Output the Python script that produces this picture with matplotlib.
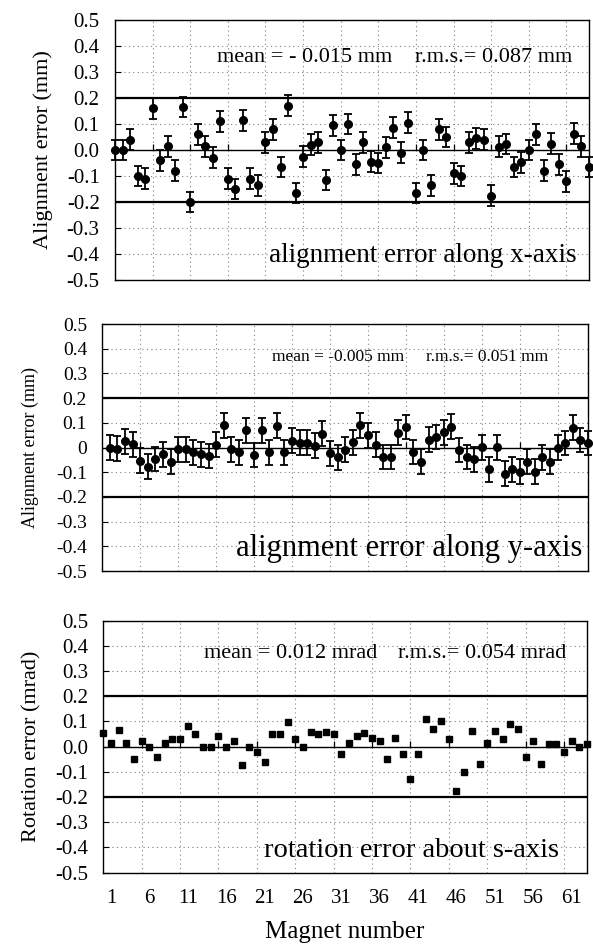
import numpy as np
import matplotlib
matplotlib.use('Agg')
import matplotlib.pyplot as plt

plt.rcParams['font.family'] = ['Liberation Serif', 'DejaVu Serif']

# alignment error along x (magnets plotted from 0), mm
x_err = [0.00, 0.00, 0.04, -0.10, -0.11, 0.16, -0.04, 0.015, -0.08, 0.165,
         -0.20, 0.06, 0.015, -0.03, 0.11, -0.11, -0.15, 0.115, -0.11, -0.135,
         0.03, 0.08, -0.065, 0.17, -0.165, -0.025, 0.02, 0.03, -0.115, 0.095,
         0.00, 0.10, -0.055, 0.03, -0.045, -0.05, 0.01, 0.085, -0.01, 0.105,
         -0.165, 0.00, -0.135, 0.08, 0.05, -0.09, -0.10, 0.03, 0.045, 0.04,
         -0.175, 0.013, 0.023, -0.065, -0.047, 0.00, 0.06, -0.08, 0.025, -0.055,
         -0.12, 0.063, 0.015, -0.065]
x_sigma = 0.04

# alignment error along y (magnets plotted from 1), mm
y_err = [0.00, -0.005, 0.025, 0.013, -0.054, -0.078, -0.047, -0.028, -0.058, -0.008,
         -0.008, -0.019, -0.027, -0.035, 0.012, 0.09, -0.008, -0.019, 0.07, -0.03,
         0.07, -0.019, 0.089, -0.019, 0.027, 0.019, 0.019, 0.008, 0.056, -0.024,
         -0.04, -0.009, 0.021, 0.09, 0.05, 0.011, -0.038, -0.038, 0.06, 0.083,
         -0.018, -0.057, 0.031, 0.042, 0.061, 0.084, -0.01, -0.038, -0.048, 0.001,
         -0.088, 0.001, -0.106, -0.088, -0.098, -0.058, -0.098, -0.04, -0.058, -0.001,
         0.018, 0.08, 0.03, 0.018]
y_sigma = 0.05

# rotation error about s, mrad
rot_err = [0.053, 0.013, 0.064, 0.013, -0.048, 0.023, 0.0, -0.04, 0.013, 0.031,
           0.031, 0.081, 0.051, 0.0, 0.0, 0.041, 0.0, 0.02, -0.072, -0.003,
           -0.023, -0.06, 0.049, 0.049, 0.097, 0.028, -0.003, 0.057, 0.049, 0.056,
           0.048, -0.03, 0.015, 0.043, 0.053, 0.033, 0.023, -0.05, 0.032, -0.029,
           -0.13, -0.029, 0.11, 0.07, 0.1, 0.03, -0.175, -0.1, 0.061, -0.07,
           0.012, 0.061, 0.03, 0.09, 0.07, -0.041, 0.02, -0.07, 0.01, 0.01,
           -0.021, 0.02, 0.0, 0.01]

yticks = [0.5, 0.4, 0.3, 0.2, 0.1, 0.0, -0.1, -0.2, -0.3, -0.4, -0.5]
ylabels_1dec = ['%.1f' % v for v in yticks]
ylabels_mid = ['0' if v == 0 else '%.1f' % v for v in yticks]
grid_x = list(range(5, 61, 5))
xtick_pos = list(range(1, 62, 5))
xtick_labels = [str(v) for v in xtick_pos]

W, H = 593, 951
fig = plt.figure(figsize=(W / 100, H / 100), dpi=100)


def rect(l, r, t, b):
    return [l / W, 1 - b / H, (r - l) / W, (b - t) / H]


def style(ax, xmax, ylabels, tick_fs):
    ax.set_xlim(0, xmax)
    ax.set_ylim(-0.5, 0.5)
    ax.set_yticks(yticks)
    ax.set_yticklabels(ylabels)
    ax.set_xticks(grid_x)
    ax.tick_params(axis='x', which='both', length=0, labelbottom=False)
    ax.tick_params(axis='y', direction='in', length=4, pad=11, labelsize=tick_fs)
    ax.grid(True, color='#808080', linestyle=(0, (1, 3)), linewidth=0.8)
    for v in (0.2, -0.2):
        ax.axhline(v, color='k', lw=1.6, zorder=2)
    ax.axhline(0, color='k', lw=1.0, zorder=2)
    ax.vlines(grid_x, 0, 0.022, color='k', lw=0.9, zorder=2)
    for s in ax.spines.values():
        s.set_linewidth(1.0)


# panel 1
ax1 = fig.add_axes(rect(115, 589, 20, 280))
style(ax1, 63, ylabels_1dec, 15)
ax1.errorbar(np.arange(len(x_err)), x_err, yerr=x_sigma, fmt='o', color='k',
             ms=5.5, elinewidth=1.3, capsize=3, capthick=1.3, zorder=3, clip_on=False)
ax1.set_ylabel('Alignment error (mm)', fontsize=16, labelpad=10)
ax1.text(13.6, 0.34, 'mean = - 0.015 mm', fontsize=16, ha='left')
ax1.text(60.8, 0.34, 'r.m.s.= 0.087 mm', fontsize=16, ha='right')
ax1.text(61.4, -0.43, 'alignment error along x-axis', fontsize=19.5, ha='right')

# panel 2
ax2 = fig.add_axes(rect(102.3, 588, 324, 571))
style(ax2, 64, ylabels_mid, 14)
ax2.errorbar(np.arange(1, len(y_err) + 1), y_err, yerr=y_sigma, fmt='o', color='k',
             ms=5.5, elinewidth=1.3, capsize=3, capthick=1.3, zorder=3, clip_on=False)
ax2.set_ylabel('Alignment error (mm)', fontsize=13, labelpad=12)
ax2.text(22.4, 0.35, 'mean = -0.005 mm', fontsize=12.5, ha='left')
ax2.text(58.7, 0.35, 'r.m.s.= 0.051 mm', fontsize=12.5, ha='right')
ax2.text(63.3, -0.44, 'alignment error along y-axis', fontsize=22, ha='right')

# panel 3
ax3 = fig.add_axes(rect(103.3, 587, 620.5, 872.5))
style(ax3, 63, ylabels_1dec, 15)
ax3.plot(np.arange(len(rot_err)), rot_err, 's', color='k', ms=5, zorder=3, clip_on=False)
ax3.set_xticks(xtick_pos, minor=True)
ax3.set_xticklabels(xtick_labels, minor=True)
ax3.tick_params(axis='x', which='minor', labelbottom=True, labelsize=15, pad=12)
ax3.set_ylabel('Rotation error (mrad)', fontsize=16, labelpad=10)
ax3.set_xlabel('Magnet number', fontsize=18, labelpad=9)
ax3.text(13.1, 0.35, 'mean = 0.012 mrad', fontsize=16, ha='left')
ax3.text(60.3, 0.35, 'r.m.s.= 0.054 mrad', fontsize=16, ha='right')
ax3.text(59.3, -0.44, 'rotation error about s-axis', fontsize=20.5, ha='right')

fig.savefig('out.png', dpi=100)
